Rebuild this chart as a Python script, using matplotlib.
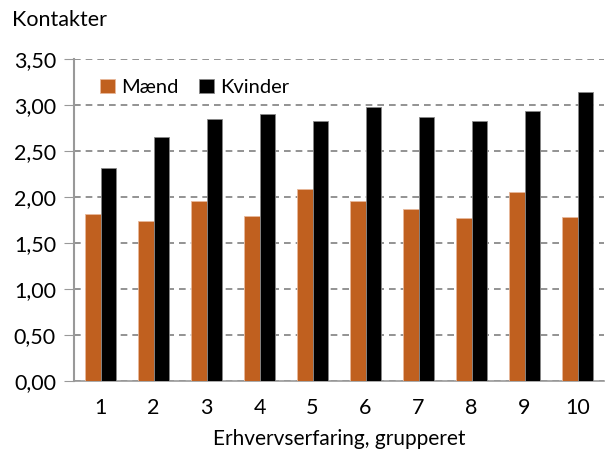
import matplotlib
matplotlib.use("Agg")
import matplotlib.pyplot as plt
import numpy as np

plt.rcParams["font.family"] = ["Lato", "DejaVu Sans"]

groups = ["1", "2", "3", "4", "5", "6", "7", "8", "9", "10"]
maend = [1.82, 1.74, 1.96, 1.79, 2.09, 1.96, 1.87, 1.77, 2.05, 1.78]
kvinder = [2.31, 2.65, 2.85, 2.90, 2.83, 2.98, 2.87, 2.83, 2.93, 3.14]
yticks = [0.0, 0.5, 1.0, 1.5, 2.0, 2.5, 3.0, 3.5]

fig = plt.figure(figsize=(6.08, 4.61), dpi=100)
ax = fig.add_axes([74 / 608, 1 - 381 / 461, 530 / 608, 322 / 461])

x = np.arange(len(groups))
width = 0.29
ax.bar(x - width / 2, maend, width, color="#C0601F", edgecolor="#E8B89A",
       linewidth=0.6, label="Mænd", zorder=3)
ax.bar(x + width / 2, kvinder, width, color="black", edgecolor="#888888",
       linewidth=0.6, label="Kvinder", zorder=3)

ax.set_xlim(-0.5, len(groups) - 0.5)
ax.set_ylim(0, 3.5)
ax.set_yticks(yticks)
ax.set_yticklabels([f"{v:.2f}".replace(".", ",") for v in yticks])
ax.set_xticks(x)
ax.set_xticklabels(groups)
ax.tick_params(axis="y", length=7, color="#999999", labelsize=15.5, pad=6)
ax.tick_params(axis="x", length=0, labelsize=15.5, pad=12)

ax.grid(axis="y", color="#808080", linestyle=(0, (4, 3)), linewidth=1.2, zorder=0)
for side in ["top", "right"]:
    ax.spines[side].set_visible(False)
ax.spines["left"].set_color("#999999")
ax.spines["left"].set_linewidth(1.5)
ax.spines["bottom"].set_color("#999999")
ax.spines["bottom"].set_linewidth(1.2)

ax.set_xlabel("Erhvervserfaring, grupperet", fontsize=15, labelpad=8)
fig.text(12 / 608, 1 - 20 / 461, "Kontakter", fontsize=15.5, va="center")

ax.legend(loc="upper left", bbox_to_anchor=(0.015, 0.995), ncol=2, frameon=False,
          fontsize=14.5, handlelength=0.75, handleheight=0.75, columnspacing=1.0,
          handletextpad=0.3)

fig.savefig("out.png", dpi=100)
